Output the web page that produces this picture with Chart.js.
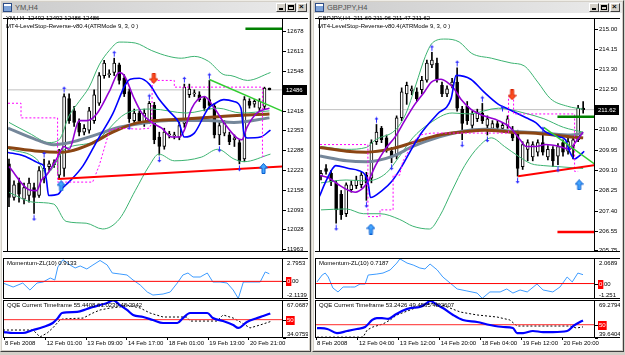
<!DOCTYPE html>
<html>
<head>
<meta charset="utf-8">
<title>YM,H4 / GBPJPY,H4</title>
<script src="https://cdn.jsdelivr.net/npm/chart.js@4.4.1/dist/chart.umd.min.js"></script>
<style>
  body { margin:0; width:625px; height:355px; background:#d4d0c8; position:relative; overflow:hidden; font-family:"Liberation Sans", Arial, sans-serif; }
  .win { position:absolute; top:0; height:352px; box-sizing:border-box; background:#d4d0c8; border:1px solid; border-color:#eeece6 #404040 #404040 #eeece6; }
  .cap { position:absolute; left:1px; right:1px; top:1px; height:11px; background:linear-gradient(to right,#cbcbcb,#ebebeb); }
  .ico { position:absolute; left:1px; top:1px; width:7px; height:7px; border:1px solid #2c4c86; background:linear-gradient(#fff 0 35%, #7da2d8 35%); }
  .cap .t { position:absolute; left:13px; top:0; font-size:7.5px; line-height:11px; color:#505050; }
  .btn { position:absolute; top:1px; width:10px; height:9px; box-sizing:border-box; background:#d4d0c8; border:1px solid; border-color:#fff #404040 #404040 #fff; }
  .btn i { position:absolute; display:block; box-sizing:border-box; }
  .cl { position:absolute; left:1px; top:12px; bottom:1px; right:1px; background:#fff; }
  canvas { position:absolute; }
  .lb { position:absolute; font-size:6px; line-height:7px; color:#000; white-space:pre; }
</style>
</head>
<body>

<div class="win" style="left:0;width:311px">
  <div class="cap"><span class="ico"></span><span class="t">YM,H4</span>
    <span class="btn" style="left:274px"><i style="left:2px;top:4px;width:4px;height:2px;background:#000"></i></span>
    <span class="btn" style="left:284px"><i style="left:1px;top:1px;width:6px;height:5px;border:1px solid #000;border-top-width:2px"></i></span>
    <span class="btn" style="left:295px"><i style="left:1px;top:-2px;font:bold 8px/10px Arial;color:#000">×</i></span>
  </div>
  <div class="cl"></div>
</div>

<div class="win" style="left:312px;width:312px">
  <div class="cap"><span class="ico"></span><span class="t">GBPJPY,H4</span>
    <span class="btn" style="left:275px"><i style="left:2px;top:4px;width:4px;height:2px;background:#000"></i></span>
    <span class="btn" style="left:285px"><i style="left:1px;top:1px;width:6px;height:5px;border:1px solid #000;border-top-width:2px"></i></span>
    <span class="btn" style="left:296px"><i style="left:1px;top:-2px;font:bold 8px/10px Arial;color:#000">×</i></span>
  </div>
  <div class="cl"></div>
</div>

<canvas id="ymMain" width="305" height="244" style="left:3px;top:13px"></canvas>
<canvas id="ymMom" width="305" height="41" style="left:3px;top:258px"></canvas>
<canvas id="ymQqe" width="305" height="49" style="left:3px;top:300px"></canvas>
<canvas id="gjMain" width="305" height="244" style="left:315px;top:13px"></canvas>
<canvas id="gjMom" width="305" height="41" style="left:315px;top:258px"></canvas>
<canvas id="gjQqe" width="305" height="49" style="left:315px;top:300px"></canvas>

<div class="lb" style="left:6px;top:15px">YM,H4  12492 12492 12486 12486</div>
<div class="lb" style="left:6px;top:23px">MT4-LevelStop-Reverse-v80.4(ATRMode 9, 3, 0 )</div>
<div class="lb" style="left:7px;top:260px">Momentum-ZL(10) 0.9133</div>
<div class="lb" style="left:7px;top:302px">QQE Current Timeframe 55.4408 61.0239 48.2942</div>
<div class="lb" style="left:318px;top:15px">GBPJPY,H4  211.69 211.96 211.47 211.62</div>
<div class="lb" style="left:318px;top:23px">MT4-LevelStop-Reverse-v80.4(ATRMode 9, 3, 0 )</div>
<div class="lb" style="left:319px;top:260px">Momentum-ZL(10) 0.7187</div>
<div class="lb" style="left:319px;top:302px">QQE Current Timeframe 53.2426 49.4565 48.2607</div>

<script>
Chart.defaults.font.family = '"Liberation Sans", Arial, sans-serif';
Chart.defaults.font.size = 6;
Chart.defaults.color = '#000';

// ---------- YM,H4 ----------
const ymOpen  = [12243,12133,12180,12127,12139,12165,12139,12196,12234,12240, 12206,12228,12457,12417,12376,12347,12354,12385,12442,12533, 12536,12543,12568,12524,12480,12385,12410,12379,12385,12435, 12331,12300,12338,12335,12331,12376,12470,12473,12470,12457, 12454,12432,12338,12344,12338,12322,12313,12259,12448,12439, 12426,12432,12492];
const ymHigh  = [12259,12187,12196,12180,12196,12180,12234,12259,12253,12256, 12291,12473,12473,12432,12391,12372,12429,12486,12543,12583, 12552,12590,12574,12536,12489,12423,12417,12423,12448,12445, 12347,12360,12350,12347,12382,12505,12505,12486,12480,12464, 12517,12442,12379,12385,12347,12338,12322,12464,12457,12454, 12457,12495,12492];
const ymLow   = [12102,12124,12117,12111,12117,12080,12133,12180,12221,12231, 12196,12202,12376,12366,12335,12338,12344,12376,12435,12524, 12527,12533,12505,12464,12379,12372,12376,12366,12376,12309, 12272,12291,12328,12325,12322,12363,12461,12464,12448,12417, 12423,12328,12306,12335,12306,12300,12243,12250,12426,12429, 12417,12423,12486];
const ymClose = [12133,12174,12143,12165,12180,12133,12221,12228,12243,12247, 12275,12464,12385,12379,12347,12360,12417,12470,12533,12574, 12539,12574,12517,12473,12391,12410,12385,12410,12442,12322, 12300,12347,12341,12338,12369,12495,12489,12476,12454,12426, 12435,12338,12369,12376,12316,12328,12253,12454,12435,12448, 12448,12492,12486];

const ymBandUp  = [[0,12379],[4,12344],[8,12313],[10,12322],[12,12401],[14,12448],[16,12495],[18,12568],[20,12615],[22,12643],[25.2,12640],[28.5,12615],[31.9,12596],[34.4,12590],[37,12596],[39.8,12580],[42.9,12536],[44.3,12533],[47.6,12517],[52.2,12543]];
const ymBandMid = [[0,12291],[5.5,12259],[7.5,12212],[11.2,12291],[17,12316],[23.2,12407],[28.5,12423],[35.4,12410],[41.7,12426],[46.3,12410],[52,12417]];
const ymBandLo  = [[0,12149],[4.9,12117],[8.9,12111],[11.4,12054],[15.4,12048],[18.7,12029],[22,12061],[25.2,12155],[28,12237],[29.9,12275],[33,12253],[38.4,12265],[41.7,12291],[44.9,12259],[46.9,12250],[52.2,12275]];
const ymBlue    = [[-0.4,12281],[3,12269],[6.3,12243],[6.9,12237],[7.5,12187],[7.9,12139],[9.8,12143],[10.8,12165],[12.2,12187],[14.8,12237],[17.7,12322],[20.7,12407],[23.2,12502],[24.2,12521],[26,12524],[28,12505],[29.9,12457],[31.9,12417],[33.9,12379],[35,12331],[37,12344],[39.8,12426],[40.9,12439],[42.9,12454],[44.9,12448],[46.3,12426],[46.9,12344],[47.6,12328],[50.2,12331],[52.2,12354]];
const ymPurple  = [[0,12234],[4,12158],[5.5,12155],[6.5,12190],[7.5,12206],[9.5,12259],[11,12300],[12,12291],[14,12385],[15.5,12385],[17.5,12407],[20,12480],[22,12543],[23,12533],[25,12457],[26.5,12410],[28.5,12379],[30.5,12360],[32.5,12331],[34,12331],[35,12354],[36.5,12426],[39,12464],[41,12426],[43,12376],[45.5,12328],[46.5,12322],[47.5,12363],[49.5,12410],[52,12426]];
const ymBrown   = [[-0.2,12297],[6,12284],[10,12281],[12,12284],[16,12306],[20.7,12347],[25.2,12376],[29,12385],[35.8,12391],[41.7,12398],[52,12407]];
const ymSlate   = [[-0.2,12360],[5.5,12322],[8.9,12306],[12.2,12313],[17.3,12338],[22,12363],[26.6,12376],[31.9,12385],[39.8,12385],[44.9,12379],[52,12394]];
const ymStop    = [[-0.2,12442],[2.4,12442],[2.4,12394],[9.7,12394],[9.7,12183],[16.7,12183],[18,12237],[20.1,12354],[22,12360],[26,12357],[28,12360],[28.5,12376],[28.6,12517],[33,12517],[33,12495],[50.6,12495],[50.6,12268],[51.2,12268]];
const ymRedTrend   = [[9.8,12193],[54.6,12234]];
const ymGreenTrend = [[40,12520],[54.6,12416]];
const ymLevel      = [[47.2,12687],[54.6,12687]];
const ymFracUp = [[7,12259],[11,12473],[21,12590],[28,12448],[35,12505],[40,12517]];
const ymFracDn = [[5,12080],[24,12379],[30,12272],[42,12306],[46,12243]];
const ymBuy  = [[10.4,12171],[50.8,12228]];
const ymSell = [[28.9,12524]];
const ymPrice = 12486;
const ymTicks = [12678,12613,12548,12418,12353,12288,12223,12158,12093,12028,11963];

const ymMom = [[-0.4,-0.20],[1.6,-0.68],[3.5,-0.20],[4.9,-1.04],[6.3,-0.20],[7.5,-0.08],[8.9,0.40],[9.8,0.16],[10.4,1.72],[11.4,2.60],[12.8,1.96],[13.8,1.60],[14.8,1.84],[16.1,1.48],[17.3,1.96],[18.7,2.50],[20.1,1.96],[21.1,1.00],[22.6,0.88],[24,0.76],[25.2,0.16],[26.6,-0.44],[28,-1.28],[29.1,-1.64],[31.1,-1.52],[32.5,-1.28],[33.9,-0.20],[35,0.76],[36,1.00],[37,0.52],[38.4,0.52],[39.8,1.00],[40.9,-0.08],[42.3,-0.08],[43.7,-0.20],[44.9,-1.04],[45.9,-2.05],[46.9,-0.08],[48.8,-0.08],[50.2,-0.08],[51.2,1.12],[52,0.91]];
const ymQqe = [[-0.4,39.3],[1.6,38.4],[3.5,38.4],[5.5,41.0],[7.5,43.6],[9.4,47.1],[10.4,51.4],[11.2,55.8],[14.2,56.7],[16.1,59.3],[17.3,61.0],[18.7,62.7],[20.1,64.5],[21.3,66.8],[22.6,62.7],[24,58.4],[25.2,54.1],[27.2,52.3],[29.1,49.7],[31.1,47.1],[33.9,47.1],[35,51.4],[36.4,55.8],[39.8,55.8],[40.9,51.4],[42.9,48.8],[44.9,45.4],[45.9,42.8],[47.6,48.0],[49.6,51.4],[50.8,53.2],[52.2,55.4]];
const ymQqeSig = [[-0.4,41.0],[5.5,41.0],[6.9,35.0],[8.3,38.4],[9.4,42.8],[10.8,49.7],[11.4,50.6],[15.4,51.4],[17.3,55.8],[18.7,58.4],[20.7,60.1],[22.6,61.0],[24,62.7],[26.6,60.1],[28.5,55.8],[31.1,52.3],[35.8,52.3],[36.4,48.8],[41.7,48.8],[42.9,54.1],[44.9,51.4],[46.3,48.0],[48.2,42.8],[50.2,45.4],[52.2,48.3]];
const ymTimeLabels = ['8 Feb 2008','12 Feb 01:00','13 Feb 09:00','14 Feb 17:00','18 Feb 01:00','19 Feb 13:00','20 Feb 21:00'];

// ---------- GBPJPY,H4 ----------
const gjOpen  = [208.84,209.16,208.96,208.56,208.08,207.27,208.28,208.44,208.48,208.88, 208.76,210.28,210.84,210.44,209.88,209.68,211.28,212.28,212.40,212.36, 212.45,212.85,213.49,213.57,212.64,212.28,212.64,212.77,211.64,211.76, 210.96,211.24,211.48,210.96,210.84,211.04,210.84,210.96,210.76,210.64, 209.24,209.96,209.64,209.84,210.24,209.64,209.96,209.68,210.24,209.88, 210.08,210.36,211.69];
const gjHigh  = [209.08,209.32,209.08,208.64,208.24,208.56,208.64,208.84,209.00,209.00, 210.36,211.00,210.92,210.56,210.04,211.36,212.53,212.77,212.61,212.53, 213.01,213.69,214.01,213.77,212.77,212.61,212.93,213.37,211.76,211.96, 211.56,211.64,211.88,211.36,211.16,211.16,211.08,211.36,210.92,210.76, 210.28,210.36,210.28,210.36,210.60,210.12,210.08,210.20,210.36,210.44, 210.48,211.80,211.96];
const gjLow   = [208.68,208.92,208.44,206.87,207.03,207.15,208.17,208.32,208.36,207.83, 208.56,210.16,210.24,209.84,209.40,209.56,211.16,211.84,212.24,211.96, 212.28,212.77,213.37,212.77,212.16,212.16,212.53,211.56,210.36,211.00, 210.84,211.12,211.04,210.56,210.72,210.76,210.72,210.84,210.32,208.84, 209.12,209.48,209.48,209.68,209.72,209.52,209.24,209.32,209.68,209.76, 209.56,210.28,211.47];
const gjClose = [208.96,209.04,208.60,207.43,207.23,208.48,208.48,208.68,208.88,208.56, 210.24,210.68,210.36,209.96,209.64,211.28,212.36,212.64,212.49,212.08, 212.85,213.57,213.69,212.89,212.28,212.49,212.77,211.68,211.04,211.16, 211.44,211.48,211.16,211.24,211.04,210.88,210.96,211.24,210.44,209.16, 210.16,210.24,210.16,210.24,209.84,209.96,209.48,210.08,209.84,210.28, 210.36,211.68,211.62];

const gjBandUp  = [[0,210.08],[5,209.96],[9,210.04],[10.8,210.36],[14.7,210.76],[16.8,211.44],[18.8,212.65],[20.7,213.85],[22.1,214.41],[24.6,214.57],[27.4,214.45],[29.9,213.97],[33.8,213.77],[37.7,213.57],[40.3,213.45],[43,212.77],[45.5,212.08],[48.9,211.76],[52,211.64]];
const gjBandMid = [[0,208.56],[5,208.68],[9,208.64],[12.9,208.96],[15.6,209.68],[18.2,210.44],[21.5,211.04],[26,211.48],[29.3,211.44],[35.2,211.68],[40.3,211.48],[44.2,211.24],[48.1,210.88],[52,210.68]];
const gjBandLo  = [[0,207.43],[5,207.47],[8.4,207.27],[11.7,207.27],[15.6,207.03],[18.2,206.75],[21.5,206.63],[23.5,207.15],[26,208.24],[28.5,209.28],[31.3,210.08],[33.8,210.44],[36.4,210.08],[39.1,209.68],[41.7,209.36],[44.2,209.28],[46.9,209.24],[52,209.16]];
const gjBlue    = [[-0.4,207.95],[1,208.64],[2.3,209.16],[2.9,209.28],[5.5,209.16],[7.4,209.08],[8.8,208.88],[9.4,208.48],[9.8,207.95],[12.1,208.24],[14.1,208.64],[16,209.24],[17.6,209.84],[19.9,210.64],[23.1,211.44],[25.8,212.08],[26.8,213.05],[29.7,212.89],[32.3,212.36],[35.2,211.84],[36.8,211.68],[40.7,211.28],[42.6,211.08],[44.6,210.68],[47.3,210.48],[48.5,210.36],[49.3,209.88],[50.3,209.56],[51.2,209.68],[52.2,209.88]];
const gjPurple  = [[-0.4,208.88],[1.6,208.76],[3.5,208.48],[5.5,208.24],[6.8,208.17],[8.4,208.36],[9.4,208.64],[10.8,209.28],[12.7,209.96],[14.7,210.48],[16.6,211.16],[18.6,211.84],[20.5,212.36],[21.9,212.77],[23.8,212.89],[25,212.77],[26.4,212.49],[27.8,212.04],[29.7,211.64],[32.3,211.36],[35.2,211.16],[37.5,210.88],[39.5,210.36],[40.7,210.08],[42.6,210.08],[44.6,210.16],[47.3,210.08],[49.3,209.96],[50.4,210.24],[52,210.68]];
const gjBrown   = [[-0.2,210.04],[5.1,209.88],[9,209.84],[14.3,210.00],[18.2,210.24],[23.5,210.56],[28,210.68],[32.5,210.76],[37.7,210.68],[44.2,210.60],[49.5,210.48],[52,210.44]];
const gjSlate   = [[-0.2,209.68],[5.1,209.48],[9,209.44],[14.3,209.68],[18.2,210.08],[23.5,210.48],[28,210.72],[32.5,210.80],[37.7,210.72],[44.2,210.64],[49.5,210.56],[52,210.64]];
const gjStop    = [[-0.2,210.16],[9.3,210.16],[9.3,207.15],[11.7,207.15],[11.7,207.43],[14.3,207.43],[14.3,208.88],[15.6,208.88],[16.2,209.44],[18.2,210.24],[19.6,210.56],[21.9,210.64],[37.2,210.64],[37.2,212.16],[38.2,212.16],[38.2,211.44],[50.3,211.44],[50.3,209.04],[51,209.04]];
const gjRedTrend   = [[39.1,208.84],[54.3,209.30]];
const gjGreenTrend = [[44.2,210.88],[54.3,209.34]];
const gjLevelHi    = [[46.9,211.32],[54.3,211.32]];
const gjLevelLo    = [[46.9,206.51],[54.3,206.51]];
const gjFracUp = [[11,211.00],[22,214.01],[27,213.37],[32,211.88],[36,211.48],[44,210.60]];
const gjFracDn = [[3,206.87],[9,207.83],[14,209.40],[28,210.36],[33,210.56],[39,208.84],[47,209.32]];
const gjBuy  = [[9.9,206.63],[51.2,208.48]];
const gjSell = [[37.9,212.24]];
const gjPrice = 211.62;
const gjTicks = [215.00,214.15,213.30,212.50,210.80,209.95,209.10,208.25,207.40,206.55,205.75];

const gjMom = [[0,0.13],[1,0.69],[1.6,0.85],[2.2,0.53],[3.1,-0.36],[4.1,-0.68],[5.1,-0.28],[6.5,-0.28],[7.4,-0.28],[8.4,-0.04],[9.4,-0.04],[10,0.69],[11.7,0.77],[12.9,0.85],[14.3,1.10],[15.6,1.66],[16.2,2.00],[17.6,1.66],[18.8,1.50],[20.1,1.26],[21.1,1.18],[22.1,1.58],[23.5,1.10],[24.6,0.53],[26,0.05],[27.4,-0.44],[29.3,-0.60],[31.3,-0.77],[32.3,-1.20],[33.8,-0.68],[35.8,-0.68],[37.1,-0.44],[38.3,-0.77],[39.7,-0.52],[41.1,-0.68],[43,-0.04],[44.2,-0.52],[46.1,-0.68],[47.5,-0.28],[48.9,0.53],[49.9,0.13],[51,0.85],[52,0.72]];
const gjQqe = [[0,47.4],[2,46.7],[3.9,43.5],[5.9,45.1],[7.8,46.7],[9.4,48.2],[10.8,53.7],[11.7,55.2],[12.7,55.2],[13.9,54.5],[15.2,57.6],[16.6,60.7],[18.2,63.0],[20.1,63.8],[21.5,66.9],[22.1,68.5],[23.5,65.4],[24.6,63.0],[26.6,57.6],[28.5,53.7],[31.3,52.1],[33.8,49.8],[36.4,48.2],[38.3,47.4],[39.1,43.5],[40.3,43.5],[42.2,45.1],[44.2,44.3],[46.1,44.3],[48.9,45.1],[50.1,49.0],[51.4,52.1],[52,53.2]];
const gjQqeSig = [[0,40.3],[9,40.3],[9.8,45.9],[10.9,48.2],[12.9,50.6],[14.3,53.7],[15.6,57.6],[18.2,61.5],[20.7,65.4],[23.5,66.9],[26,63.0],[28,59.9],[31.3,57.6],[35.2,56.0],[37.7,53.7],[39.1,49.0],[44.2,49.0],[49.5,49.0],[50.7,47.4],[52,48.3]];
const gjTimeLabels = ['8 Feb 2008','12 Feb 04:00','13 Feb 12:00','14 Feb 20:00','18 Feb 04:00','19 Feb 12:00','20 Feb 20:00'];

const timePos = [-0.2, 8, 16, 24, 32, 40, 48];
const X_MIN = -0.2;
const FONT = '6px "Liberation Sans", Arial, sans-serif';

// marco del panel, escala de precios a la derecha y etiqueta de precio
const paneDeco = {
  id: 'paneDeco',
  afterDraw(chart, args, o) {
    const { ctx, chartArea: a, width } = chart;
    const ys = chart.scales.y;
    ctx.save();
    ctx.strokeStyle = '#000';
    ctx.lineWidth = 1;
    ctx.beginPath();
    ctx.moveTo(0, a.top + 0.5); ctx.lineTo(width, a.top + 0.5);
    ctx.moveTo(0, a.bottom - 0.5); ctx.lineTo(width, a.bottom - 0.5);
    ctx.moveTo(a.left - 0.5, a.top); ctx.lineTo(a.left - 0.5, a.bottom);
    ctx.moveTo(a.right + 0.5, a.top); ctx.lineTo(a.right + 0.5, a.bottom);
    ctx.stroke();
    ctx.font = FONT;
    ctx.textAlign = 'left';
    const vals = o.values, n = vals.length;
    for (let i = 0; i < n; i++) {
      const py = Math.round(ys.getPixelForValue(vals[i])) + 0.5;
      let ty = py, base = 'middle';
      if (o.edges && i === 0) { ty = a.top + 2; base = 'top'; }
      if (o.edges && i === n - 1) { ty = a.bottom - 1; base = 'bottom'; }
      ctx.beginPath(); ctx.moveTo(a.right + 1, py); ctx.lineTo(a.right + 4, py); ctx.stroke();
      ctx.textBaseline = base;
      const txt = o.labels[i];
      const tx = a.right + 5;
      ctx.fillStyle = '#000';
      ctx.fillText(txt, tx, ty);
      if (o.mark && o.mark.index === i) {
        const part = txt.slice(0, o.mark.chars);
        const w = ctx.measureText(part).width + 2;
        ctx.fillStyle = '#ff0000';
        ctx.fillRect(tx - 1, py - 4.5, w, 9);
        ctx.fillStyle = '#fff';
        ctx.fillText(part, tx, ty);
      }
    }
    if (o.tag) {
      const py = Math.round(ys.getPixelForValue(o.tag.value));
      ctx.fillStyle = '#000';
      ctx.fillRect(a.right + 1, py - 5, width - a.right - 2, 10);
      ctx.fillStyle = '#fff';
      ctx.textBaseline = 'middle';
      ctx.fillText(o.tag.text, a.right + 4, py + 0.5);
    }
    ctx.restore();
  }
};

function pts(arr) {
  return arr.map(p => ({ x: p[0], y: p[1] }));
}

const straight = { cubicInterpolationMode: 'default', tension: 0 };

function lineSet(arr, color, width, extra) {
  return Object.assign({
    type: 'line', data: pts(arr), borderColor: color, borderWidth: width,
    pointRadius: 0, fill: false, cubicInterpolationMode: 'monotone', order: 5
  }, extra || {});
}

function candleSets(o, h, l, c) {
  return [
    { type: 'bar', data: h.map((v, i) => ({ x: i, y: [l[i], v] })), backgroundColor: '#000',
      barThickness: 1, grouped: false, order: 21 },
    { type: 'bar', data: o.map((v, i) => ({ x: i, y: [v, c[i]] })),
      backgroundColor: o.map((v, i) => c[i] >= v ? '#fff' : '#000'),
      borderColor: '#000', borderWidth: 1, borderSkipped: false, barThickness: 3,
      minBarLength: 1, grouped: false, order: 20 }
  ];
}

// flechas (fractales y señales)
function arrowImg(fillCol, edge, up, w, h, head, stem, boxH) {
  const cv = document.createElement('canvas');
  cv.width = w; cv.height = boxH;
  const g = cv.getContext('2d');
  if (!up) { g.translate(0, boxH); g.scale(1, -1); }
  const m = w / 2, s = stem / 2;
  g.beginPath();
  g.moveTo(m, 0.5); g.lineTo(w - 0.5, head); g.lineTo(m + s, head); g.lineTo(m + s, h - 0.5);
  g.lineTo(m - s, h - 0.5); g.lineTo(m - s, head); g.lineTo(0.5, head); g.closePath();
  g.fillStyle = fillCol; g.fill();
  if (edge) { g.strokeStyle = edge; g.lineWidth = 1; g.stroke(); }
  return cv;
}
const fracUpImg = arrowImg('#2a2aff', null, true, 5, 7, 3, 1, 16);
const fracDnImg = arrowImg('#2a2aff', null, false, 5, 7, 3, 1, 16);
const buyImg = arrowImg('#44a6ff', '#0b5fd0', true, 9, 11, 5, 3, 11);
const sellImg = arrowImg('#ff5020', '#d82000', false, 9, 11, 5, 3, 11);

function markSet(arr, img) {
  return { type: 'scatter', data: pts(arr), pointStyle: img, pointRadius: 3, showLine: false, order: 1 };
}

function yAxis(min, max) {
  return {
    type: 'linear', position: 'right', min: min, max: max,
    grid: { display: false }, border: { display: false }, ticks: { display: false },
    afterFit: s => { s.width = 26; }
  };
}

function xAxis(max, labels) {
  const ax = { type: 'linear', min: X_MIN, max: max, offset: false, display: !!labels, grid: { offset: false } };
  if (labels) {
    Object.assign(ax, {
      afterBuildTicks: s => { s.ticks = timePos.map(v => ({ value: v })); },
      ticks: { autoSkip: false, maxRotation: 0, minRotation: 0, align: 'start', padding: 0, labelOffset: 1,
        font: { size: 6 }, color: '#000', callback: (v, i) => labels[i] },
      grid: { display: true, offset: false, drawOnChartArea: false, drawTicks: true, tickLength: 2, color: '#000', lineWidth: 1 },
      border: { display: false },
      afterFit: s => { s.height = 11; }
    });
  }
  return ax;
}

function makeChart(id, datasets, xMax, yMin, yMax, labels, deco) {
  return new Chart(document.getElementById(id), {
    type: 'bar',
    data: { datasets: datasets },
    options: {
      responsive: false, animation: false, events: [],
      layout: { padding: { left: 1, right: 0, top: 0, bottom: 0 } },
      scales: { x: xAxis(xMax, labels), y: yAxis(yMin, yMax) },
      plugins: { legend: { display: false }, tooltip: { enabled: false }, paneDeco: deco }
    },
    plugins: [paneDeco]
  });
}

function mainSets(d) {
  return [
    lineSet([[X_MIN, d.price], [d.xMax, d.price]], '#c0c0c0', 1, Object.assign({ order: 40 }, straight)),
    ...candleSets(d.open, d.high, d.low, d.close),
    lineSet(d.up, '#3cb371', 1, { order: 12 }),
    lineSet(d.mid, '#3cb371', 1, { order: 12 }),
    lineSet(d.lo, '#3cb371', 1, { order: 12 }),
    lineSet(d.slate, '#75879a', 3, { order: 9 }),
    lineSet(d.brown, '#8b4513', 3, { order: 8 }),
    lineSet(d.blue, '#0000ff', 1.6, { order: 6 }),
    lineSet(d.purple, '#9400d3', 1.6, { order: 6 }),
    lineSet(d.stop, '#ff00ff', 1, Object.assign({ borderDash: [2, 2], order: 4 }, straight))
  ].concat(d.extra, [
    markSet(d.fUp, fracUpImg), markSet(d.fDn, fracDnImg),
    markSet(d.buy, buyImg), markSet(d.sell, sellImg)
  ]);
}

// ----- YM -----
const ymXMax = 54.5;
makeChart('ymMain', mainSets({
  price: ymPrice, xMax: ymXMax, open: ymOpen, high: ymHigh, low: ymLow, close: ymClose,
  up: ymBandUp, mid: ymBandMid, lo: ymBandLo, slate: ymSlate, brown: ymBrown,
  blue: ymBlue, purple: ymPurple, stop: ymStop,
  extra: [
    lineSet(ymRedTrend, '#ff0000', 2, Object.assign({ order: 3 }, straight)),
    lineSet(ymGreenTrend, '#32cd32', 1.5, Object.assign({ order: 3 }, straight)),
    lineSet(ymLevel, '#008000', 2.5, Object.assign({ order: 3 }, straight))
  ],
  fUp: ymFracUp, fDn: ymFracDn, buy: ymBuy, sell: ymSell
}), ymXMax, 11953.4, 12722.1, null,
  { values: ymTicks, labels: ymTicks.map(String), tag: { value: ymPrice, text: '12486' } });

makeChart('ymMom', [
  lineSet([[X_MIN, 0], [ymXMax, 0]], '#ff0000', 1, straight),
  lineSet(ymMom, '#3d9bff', 1, straight)
], ymXMax, -2.1139, 2.7953, null,
  { values: [2.7953, 0, -2.1139], labels: ['2.7953', '0.00', '-2.1139'], edges: true, mark: { index: 1, chars: 1 } });

makeChart('ymQqe', [
  lineSet([[X_MIN, 50], [ymXMax, 50]], '#ff2a2a', 1, straight),
  lineSet(ymQqeSig, '#000', 1, Object.assign({ borderDash: [2, 2] }, straight)),
  lineSet(ymQqe, '#0000ff', 2.2, { order: 2 })
], ymXMax, 34.0759, 67.0687, ymTimeLabels,
  { values: [67.0687, 50, 34.0759], labels: ['67.0687', '50', '34.0759'], edges: true, mark: { index: 1, chars: 2 } });

// ----- GBPJPY -----
const gjXMax = 54.15;
makeChart('gjMain', mainSets({
  price: gjPrice, xMax: gjXMax, open: gjOpen, high: gjHigh, low: gjLow, close: gjClose,
  up: gjBandUp, mid: gjBandMid, lo: gjBandLo, slate: gjSlate, brown: gjBrown,
  blue: gjBlue, purple: gjPurple, stop: gjStop,
  extra: [
    lineSet(gjRedTrend, '#ff0000', 2, Object.assign({ order: 3 }, straight)),
    lineSet(gjGreenTrend, '#32cd32', 1.5, Object.assign({ order: 3 }, straight)),
    lineSet(gjLevelHi, '#008000', 2.5, Object.assign({ order: 3 }, straight)),
    lineSet(gjLevelLo, '#ff0000', 2.5, Object.assign({ order: 3 }, straight))
  ],
  fUp: gjFracUp, fDn: gjFracDn, buy: gjBuy, sell: gjSell
}), gjXMax, 205.67, 215.45, null,
  { values: gjTicks, labels: gjTicks.map(v => v.toFixed(2)), tag: { value: gjPrice, text: '211.62' } });

makeChart('gjMom', [
  lineSet([[X_MIN, 0], [gjXMax, 0]], '#ff0000', 1, straight),
  lineSet(gjMom, '#3d9bff', 1, straight)
], gjXMax, -1.251, 2.0689, null,
  { values: [2.0689, 0, -1.251], labels: ['2.0689', '0.00', '-1.251'], edges: true, mark: { index: 1, chars: 1 } });

makeChart('gjQqe', [
  lineSet([[X_MIN, 50], [gjXMax, 50]], '#ff2a2a', 1, straight),
  lineSet(gjQqeSig, '#000', 1, Object.assign({ borderDash: [2, 2] }, straight)),
  lineSet(gjQqe, '#0000ff', 2.2, { order: 2 })
], gjXMax, 39.6404, 69.2794, gjTimeLabels,
  { values: [69.2794, 50, 39.6404], labels: ['69.2794', '50', '39.6404'], edges: true, mark: { index: 1, chars: 2 } });
</script>
</body>
</html>
